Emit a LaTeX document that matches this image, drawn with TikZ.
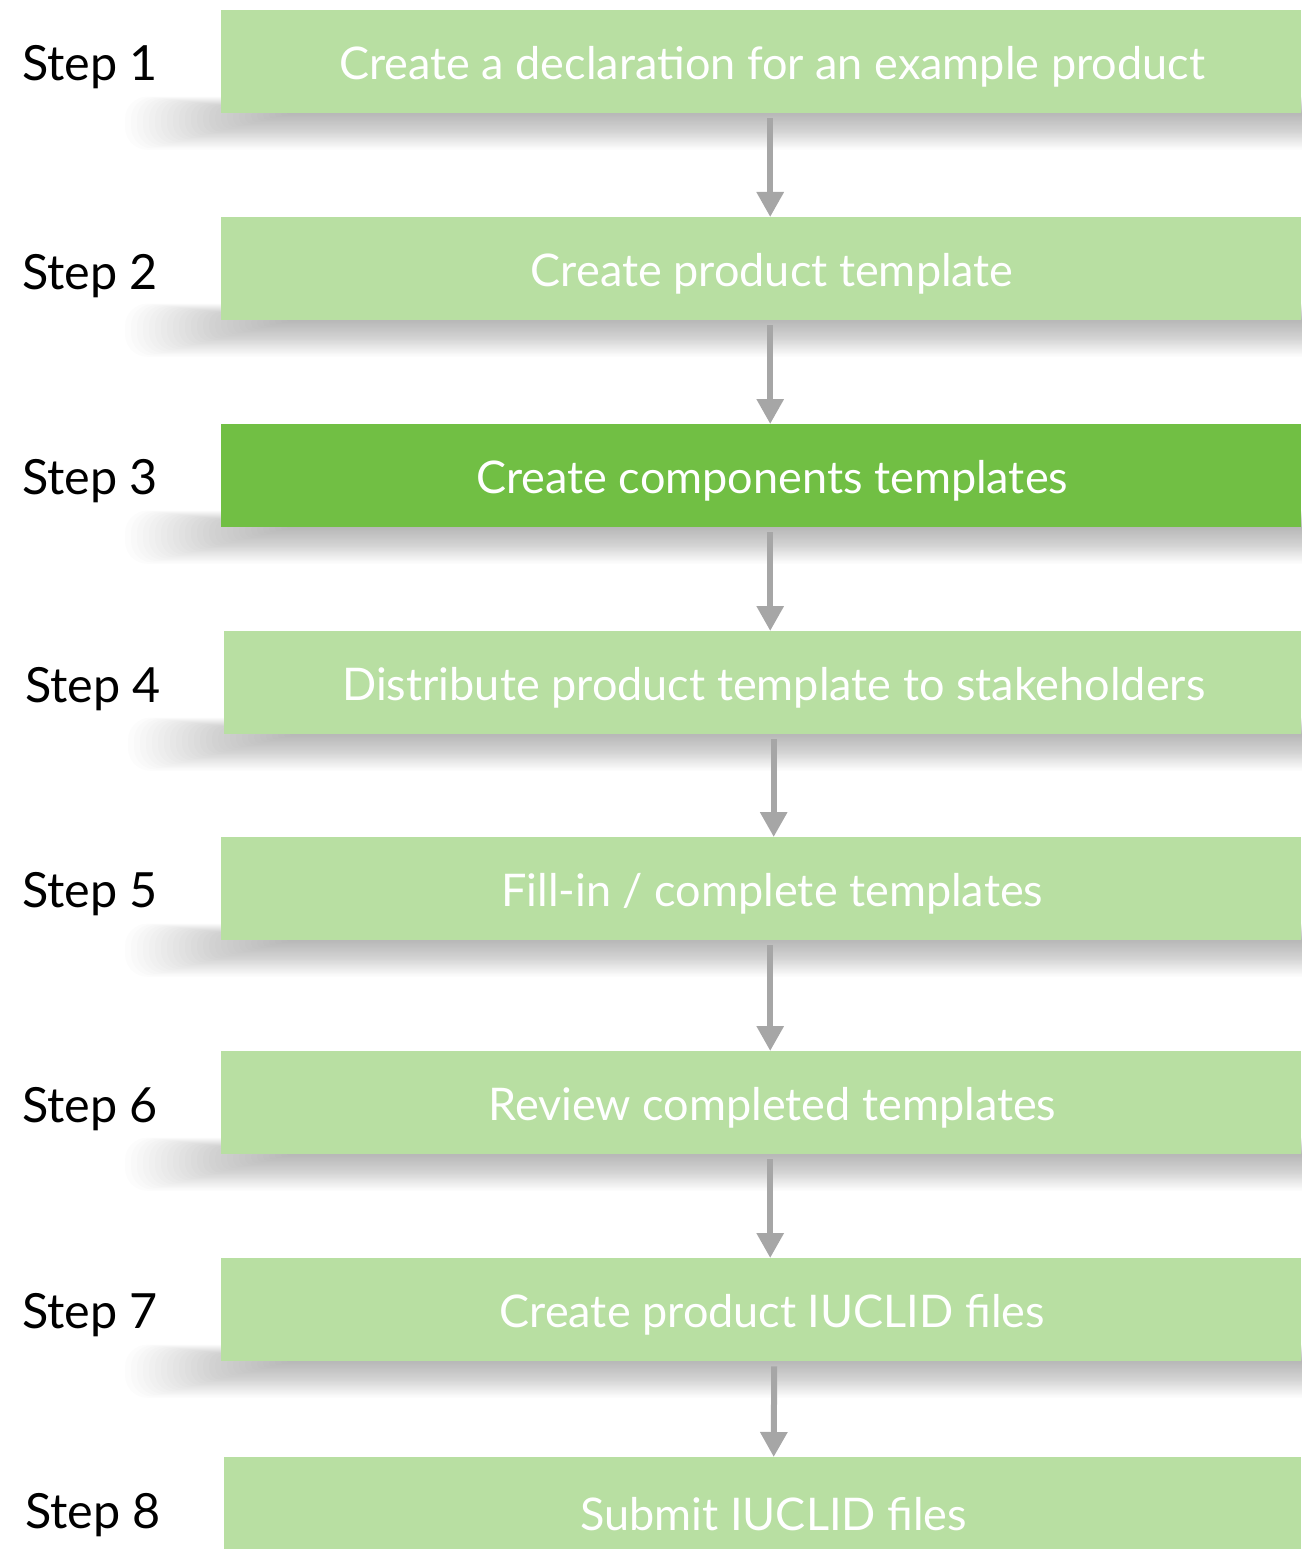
\documentclass[tikz,border=0pt]{standalone}
\usepackage{fontspec}
\setmainfont{Lato}
\usetikzlibrary{arrows.meta,backgrounds}
\definecolor{boxlight}{HTML}{B8DFA2}
\definecolor{boxdark}{HTML}{71BF44}
\definecolor{arrowgray}{HTML}{A6A6A6}
\tikzset{
  stepbox/.style={fill=boxlight, draw=none, anchor=north west, minimum width=1080pt,
    minimum height=103pt, inner sep=0pt},
  darkbox/.style={stepbox, fill=boxdark},
  boxtext/.style={inner sep=0pt, text=white, font=\fontsize{45pt}{50pt}\selectfont},
  steplabel/.style={anchor=base west, inner sep=0pt, text=black, font=\fontsize{48.5pt}{54pt}\selectfont},
  shadowlayer/.style={fill=black, fill opacity=0.0105},
  flow/.style={draw=arrowgray, line width=6pt, -{Triangle[width=26pt,length=25pt]}, arrowgray}
}
\newcommand{\boxshadow}[1]{%
  \foreach \i in {1,...,28}{%
    \fill[shadowlayer, rounded corners={0.8pt*\i}] ([xshift={-6pt*(\i-12)}, yshift={0.6pt*\i}]#1.south west) rectangle ([xshift=30pt, yshift={-1.3pt*\i}]#1.south east);
  }%
}
\begin{document}
\begin{tikzpicture}[x=1pt,y=-1pt]
\useasboundingbox (0,0) rectangle (1301,1549);
\node[stepbox] (b1) at (221,10) {};
\node[stepbox] (b2) at (221,217) {};
\node[darkbox] (b3) at (221,424) {};
\node[stepbox, minimum width=1077pt] (b4) at (224,631) {};
\node[stepbox] (b5) at (221,837) {};
\node[stepbox] (b6) at (221,1051) {};
\node[stepbox] (b7) at (221,1258) {};
\node[stepbox, minimum width=1077pt] (b8) at (224,1457) {};

\begin{scope}[on background layer]
\boxshadow{b1}
\boxshadow{b2}
\boxshadow{b3}
\boxshadow{b4}
\boxshadow{b5}
\boxshadow{b6}
\boxshadow{b7}
\end{scope}

\node[boxtext] (t1) at ([xshift=11pt,yshift=-5pt]b1.center) {Create a declaration for an example product};
\node[boxtext] (t2) at ([xshift=11pt,yshift=-5pt]b2.center) {Create product template};
\node[boxtext] (t3) at ([xshift=11pt,yshift=-5pt]b3.center) {Create components templates};
\node[boxtext] (t4) at ([xshift=11pt,yshift=-5pt]b4.center) {Distribute product template to stakeholders};
\node[boxtext] (t5) at ([xshift=11pt,yshift=-5pt]b5.center) {Fill-in / complete templates};
\node[boxtext] (t6) at ([xshift=11pt,yshift=-5pt]b6.center) {Review completed templates};
\node[boxtext] (t7) at ([xshift=11pt,yshift=-5pt]b7.center) {Create product IUCLID files};
\node[boxtext] (t8) at ([xshift=11pt,yshift=-5pt]b8.center) {Submit IUCLID files};

\node[steplabel] (s1) at (22,81) {Step 1};
\node[steplabel] (s2) at (22,289) {Step 2};
\node[steplabel] (s3) at (22,494) {Step 3};
\node[steplabel] (s4) at (25,702) {Step 4};
\node[steplabel] (s5) at (22,907) {Step 5};
\node[steplabel] (s6) at (22,1122) {Step 6};
\node[steplabel] (s7) at (22,1328) {Step 7};
\node[steplabel] (s8) at (25,1528) {Step 8};

\draw[flow] ([xshift=9pt,yshift=-5pt]b1.south) -- ([xshift=9pt]b2.north);
\draw[flow] ([xshift=9pt,yshift=-5pt]b2.south) -- ([xshift=9pt]b3.north);
\draw[flow] ([xshift=9pt,yshift=-5pt]b3.south) -- ([xshift=9pt]b4.north -| b3.south);
\draw[flow] ([xshift=11pt,yshift=-5pt]b4.south) -- ([xshift=11pt]b5.north -| b4.south);
\draw[flow] ([xshift=9pt,yshift=-5pt]b5.south) -- ([xshift=9pt]b6.north);
\draw[flow] ([xshift=9pt,yshift=-5pt]b6.south) -- ([xshift=9pt]b7.north);
\draw[flow] ([xshift=13pt,yshift=-5pt]b7.south) -- ([xshift=11pt]b8.north);
\end{tikzpicture}
\end{document}
